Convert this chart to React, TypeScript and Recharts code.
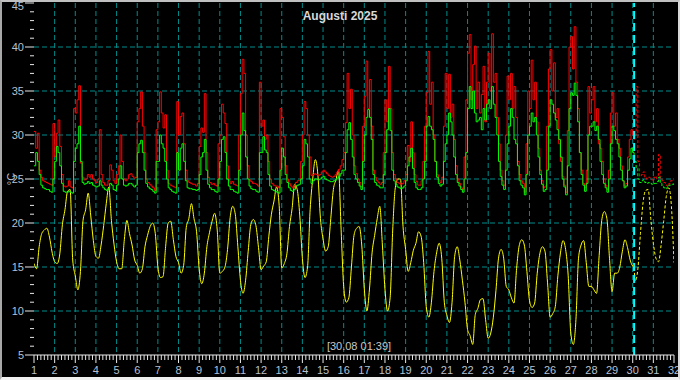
import React from "react";
import { LineChart, Line, XAxis, YAxis, CartesianGrid, ReferenceLine } from "recharts";

// two-hourly readings per day (00,02,...,22), 1-29 Aug
const RED = [
  [30.4, 28.5, 30.2, 26, 25.2, 24.8, 24.7, 24.6, 24.5, 24.4, 24.3, 31.3],
  [27.5, 30.2, 31.7, 28.7, 25.5, 24.2, 24.1, 24.2, 24.8, 24.1, 24.0, 33],
  [32.5, 34, 35.6, 26.8, 25.2, 24.9, 25, 25.5, 25.2, 25.5, 25, 24.8],
  [24.6, 25, 30.6, 25.5, 24.6, 24.3, 24.3, 24.8, 26.6, 26, 24.8, 24.5],
  [25.5, 26.5, 30, 27, 25, 24.8, 25, 25.5, 25.6, 25.3, 25.1, 25.2],
  [31.5, 33, 34.9, 31, 28, 25, 24.6, 24.4, 24.2, 24, 23.7, 30.6],
  [31.5, 34.9, 32.5, 30.8, 32.3, 26, 24.5, 24.3, 24.2, 24.1, 24.0, 33.8],
  [30, 32.1, 32.5, 29, 26, 24.8, 24.6, 24.5, 24.4, 24.4, 24.2, 24.5],
  [28.7, 30.8, 30.3, 34.7, 28, 25.2, 24.6, 24.4, 24.5, 24.3, 24.2, 29],
  [30, 33.5, 32.5, 31.3, 26.5, 24.8, 24.5, 24.7, 24.4, 24.3, 24.2, 30],
  [34.7, 38.6, 37, 30, 26.5, 24.9, 24.7, 24.5, 24.5, 24.4, 24.2, 36],
  [31, 31.7, 29.5, 30, 27, 25, 24.5, 24.3, 24.2, 24.2, 24.0, 33],
  [32, 29.8, 26.5, 25, 24.5, 24.2, 24.0, 24.3, 24.6, 24.8, 24.8, 27],
  [30, 33.8, 33, 30, 27.5, 25.4, 25.5, 25.6, 25.5, 25.4, 25.5, 25.8],
  [26, 25.8, 25.6, 25.4, 25.3, 25.2, 25.3, 25.5, 25.8, 26.1, 26.5, 27.2],
  [28, 31.4, 37, 33, 35.2, 30, 26.5, 25.6, 25, 24.6, 24.1, 31],
  [34.4, 38.4, 33, 36.3, 31, 26, 25.2, 24.8, 24.6, 24.4, 24.6, 28],
  [34, 31.5, 37.8, 33, 28, 25.5, 25, 24.6, 24.5, 24.4, 24.5, 24.8],
  [25.5, 28.8, 27, 31.5, 28, 25.5, 24.7, 24.3, 24.3, 24.8, 27, 31],
  [34.8, 39.5, 33.5, 36, 30, 27, 25.5, 24.9, 24.6, 25.2, 31, 37],
  [33, 36.9, 32, 33.5, 29.5, 26.5, 25, 24.5, 24.0, 23.8, 27.5, 34],
  [39.3, 41.4, 34, 38, 40.1, 33, 36, 32.5, 34.6, 37.8, 31.5, 36],
  [39.3, 35, 41.5, 36, 37, 32, 29, 26, 24.8, 24.3, 30, 36.7],
  [34, 37, 33, 35.5, 32, 27, 25.5, 24.8, 24.5, 23.5, 29, 35],
  [33, 38.5, 34, 36, 31.5, 28.5, 26, 24.8, 24, 24.2, 31, 37.5],
  [39.7, 35, 38.2, 32, 33, 29, 27, 25.3, 24.3, 23.5, 30.5, 40],
  [41.2, 37.5, 42.3, 36, 33, 28, 26, 24.5, 24, 26, 35.5, 32.5],
  [34, 35.5, 31.5, 33, 29, 28.5, 27, 25, 24.3, 23.8, 26, 32.5],
  [34.8, 31, 32.5, 29.5, 28.5, 26.5, 24.8, 24.2, 24.5, 27.5, 29.5, 30.6],
];

const GREEN = [
  [26.5, 28, 27, 25.5, 24.3, 24.0, 23.9, 23.8, 23.8, 23.6, 23.5, 25],
  [27, 28.7, 28, 26.5, 24.5, 23.6, 23.5, 23.5, 23.6, 23.5, 23.4, 27],
  [28.5, 29, 31, 27, 24.6, 24.4, 24.5, 24.7, 24.5, 24.6, 24.3, 24.2],
  [24.1, 24.2, 24.8, 24.3, 24, 23.8, 23.7, 23.9, 24.5, 24.3, 23.8, 23.7],
  [24.3, 25, 26.5, 25, 24.3, 24.2, 24.3, 24.5, 24.5, 24.3, 24.1, 24.3],
  [28, 29, 29.4, 28, 26, 24.5, 24.1, 23.9, 23.8, 23.6, 23.4, 27],
  [27, 30, 29, 28.5, 27, 25, 24, 23.8, 23.6, 23.5, 23.4, 28],
  [26, 28.5, 29, 27, 24.8, 24, 23.9, 23.9, 23.8, 23.8, 23.7, 23.8],
  [25.5, 27.5, 28, 29.5, 26, 24.4, 24, 23.8, 23.8, 23.6, 23.5, 25],
  [27, 29.5, 29.8, 28, 25, 24.2, 23.8, 23.8, 23.6, 23.5, 23.4, 26],
  [30, 32.5, 30.5, 27.5, 25, 24.2, 23.9, 23.8, 23.8, 23.6, 23.5, 28],
  [28, 29.8, 28.3, 28, 25.5, 24.2, 23.8, 23.7, 23.6, 23.5, 23.4, 26],
  [28.5, 27.5, 25.5, 24.6, 24, 23.7, 23.6, 23.8, 24.2, 24.3, 24.4, 25],
  [26.5, 29.5, 29, 27.5, 25, 24.5, 24.8, 25.0, 25.0, 24.9, 25.0, 25.2],
  [25.3, 25.0, 24.9, 24.8, 24.7, 24.7, 24.8, 24.9, 25.1, 25.3, 25.6, 26],
  [26, 28, 30.6, 31.4, 29.5, 27.5, 25.5, 25, 24.6, 24.2, 23.8, 27],
  [30, 32, 32.9, 32, 29.5, 25.5, 24.6, 24.3, 24.2, 24.0, 24.0, 25.5],
  [28, 30.6, 33, 30.5, 26, 24.8, 24.4, 24.1, 24.0, 23.9, 24.0, 24.2],
  [24.8, 26.5, 27.5, 28.5, 26.2, 24.6, 24.0, 23.8, 23.8, 24.0, 25.0, 27],
  [31, 32.1, 31, 30.6, 29.5, 27, 25.2, 24.5, 24.2, 24.4, 27, 29],
  [30, 32.5, 31.5, 30, 27.5, 25.5, 24.6, 24.2, 23.8, 23.5, 25, 28],
  [33, 35.5, 33, 35, 32.5, 31.5, 31.7, 32, 30.6, 33, 31.7, 33.5],
  [34, 33, 35.5, 33.5, 32, 30, 27, 25.3, 24.3, 23.8, 26, 29],
  [31, 33, 32, 29.5, 29, 26.5, 24.8, 24.3, 24.0, 23.2, 25.5, 30],
  [31, 32.5, 31.5, 32, 30, 27.5, 25.5, 24.4, 23.6, 23.8, 26, 31],
  [34, 33.5, 32.5, 31.7, 30.6, 29.5, 27.5, 25, 24.1, 23.2, 26.5, 33],
  [34.8, 34.5, 35.9, 34.5, 31.5, 28, 25.5, 24.3, 23.6, 24.5, 30, 31],
  [31, 31.5, 30.5, 31, 29.5, 27, 25.5, 24.5, 24, 23.5, 25, 29],
  [31, 30.5, 29.5, 29, 27.5, 26, 24.8, 24.0, 24.2, 26, 27.3, 28.5],
];

// three-hourly readings per day (00,03,...,21)
const YELLOW = [
  [15.4, 14.8, 17.3, 18.8, 19.2, 19.4, 18.4, 16.7],
  [15.6, 15.4, 16.5, 19.8, 21.5, 23.6, 23.8, 15.8],
  [14, 12.4, 14.5, 20.3, 21.5, 23.4, 20.8, 18],
  [16.2, 16.0, 17.5, 19.7, 22.2, 24.1, 20.3, 17.6],
  [15.6, 14.8, 14.8, 18.1, 20.3, 18.8, 17.5, 15.8],
  [15.2, 14.3, 14.8, 17.3, 18.6, 19.6, 20, 18.8],
  [15, 13.8, 13.9, 17.3, 20, 20.2, 18.1, 16.2],
  [15.5, 14.3, 15.2, 19.5, 20.5, 22.2, 20.5, 19],
  [14.8, 13.1, 14.3, 17.3, 18.9, 20.2, 21.1, 19.2],
  [14.3, 14.5, 15, 17, 20.6, 21.9, 21, 17.3],
  [13.5, 12, 13.5, 16.8, 19.8, 20.4, 19.7, 17.2],
  [14.7, 15.1, 15.6, 18.5, 21, 22.5, 24.1, 22],
  [14.9, 15.4, 16.5, 19.6, 21.6, 24.4, 23.8, 20.8],
  [16, 13.8, 15, 21.5, 25, 27.2, 25.5, 20.5],
  [18.2, 16.8, 17.3, 20.5, 23.8, 24.9, 26, 19.3],
  [12.8, 11, 11.5, 15, 18.6, 19.4, 19.6, 17.5],
  [12.5, 10, 12.5, 16.6, 18.6, 20.5, 21.9, 17.5],
  [12.5, 10, 11.5, 19.2, 24, 25, 25, 19.6],
  [17, 14.5, 15.5, 16.9, 17.7, 19, 18.5, 15.5],
  [10.5, 9.3, 11, 14.5, 16.6, 17.7, 16, 11],
  [9.5, 8.7, 11, 16.2, 17.3, 15.8, 13.5, 11],
  [7.9, 7.2, 6.2, 9.6, 10.3, 11.3, 11.4, 9],
  [6.9, 7.5, 9.3, 12.3, 16, 17, 16, 12.8],
  [12.4, 11.5, 10.9, 14.8, 17.4, 18.1, 17.5, 14.5],
  [11.2, 10.4, 10.9, 14.3, 16.5, 17.3, 16.8, 13.2],
  [9.3, 9.7, 10.5, 14, 16.6, 18, 17, 14],
  [7.5, 6.2, 9, 16, 17.5, 18, 15.5, 12.8],
  [12.8, 12.4, 12, 16.3, 20.3, 21.3, 20.5, 16],
  [12.2, 14.3, 14.3, 15, 16.8, 18.1, 17.2, 15.8],
];

// 30 Aug 00:00 and the moment of the reading (30.08 01:39)
const NOW = 30 + (1 + 39 / 60) / 24;
const RED_TAIL = [30, 29.5];
const GREEN_TAIL = [28, 27.5];
const YELLOW_TAIL = [15.1, 14.9];

// forecast: value at NOW, then every 2h (red/green) or 3h (yellow) up to 32
const RED_FC = [29.5, 30, 35.5, 27, 25.3, 25.5, 25.8, 25.2, 25, 25.2, 25.1, 24.9,
  25.2, 25.0, 25.4, 27.8, 25, 24.8, 24.6, 24.3, 24.2, 24.5, 24.8, 25, 25];
const GREEN_FC = [27.5, 27, 26.3, 25, 24.6, 24.8, 24.9, 24.6, 24.5, 24.6, 24.5, 24.4,
  24.5, 24.5, 24.7, 25.2, 24.5, 24.2, 24.0, 23.9, 24.1, 24.3, 24.4, 24.4, 24.5];
const YELLOW_FC = [14.9, 13.4, 14.8, 18.8, 22.3, 23.7, 23.8, 20.5, 17.7, 16, 15.6, 17.5,
  20.2, 23, 24, 21.9, 15.5];

const Y_TICKS = Array.from({ length: 41 }, (_, i) => 5 + i);
const X_TICKS = Array.from({ length: 187 }, (_, i) => 1 + i / 6);
const GRID_Y = [10, 15, 20, 25, 30, 35, 40];
const GRID_X = Array.from({ length: 30 }, (_, i) => 2 + i);

const TEXT = "#b8c0d0";

function history(rows: number[][], perDay: number, tail: number[]) {
  const pts = rows.flatMap((row, d) => row.map((v, i) => ({ t: 1 + d + i / perDay, v })));
  pts.push({ t: 30, v: tail[0] }, { t: NOW, v: tail[1] });
  return pts;
}

function forecast(vals: number[], perDay: number) {
  return vals.map((v, i) => ({ t: i === 0 ? NOW : 30 + i / perDay, v }));
}

const redHist = history(RED, 12, RED_TAIL);
const greenHist = history(GREEN, 12, GREEN_TAIL);
const yellowHist = history(YELLOW, 8, YELLOW_TAIL);
const redFc = forecast(RED_FC, 12);
const greenFc = forecast(GREEN_FC, 12);
const yellowFc = forecast(YELLOW_FC, 8);

const XTick = (props: any) => {
  const { x, y, payload } = props;
  const v = payload.value;
  const major = Math.abs(v - Math.round(v)) < 1e-6;
  return (
    <g>
      <line x1={x} x2={x} y1={y} y2={y + (major ? 8 : 5)} stroke="#e8e8e8" />
      {major && (
        <text x={x} y={y + 19} textAnchor="middle" fill={TEXT} fontSize={11}>
          {Math.round(v)}
        </text>
      )}
    </g>
  );
};

const YTick = (props: any) => {
  const { x, y, payload } = props;
  const v = payload.value;
  const major = v % 5 === 0;
  // the top label sits on the frame edge; nudge it just inside
  const dy = v === 45 ? 7 : 4;
  return (
    <g>
      <line x1={x - (major ? 9 : 4)} x2={x} y1={y} y2={y} stroke="#e8e8e8" />
      {major && (
        <text x={x - 10} y={y + dy} textAnchor="end" fill={TEXT} fontSize={11}>
          {v}
        </text>
      )}
    </g>
  );
};

export default function App() {
  return (
    <div style={{ position: "relative", width: 680, height: 380, background: "#000", fontFamily: "'Liberation Sans', Arial, sans-serif" }}>
      <style>{`body{margin:0;background:#000}`}</style>
      <LineChart width={680} height={380} margin={{ top: 3, right: 6, bottom: 0, left: 0 }}>
        <CartesianGrid
          horizontalValues={GRID_Y}
          verticalValues={GRID_X}
          stroke="#008c8c"
          strokeDasharray="5 3"
        />
        <XAxis
          dataKey="t"
          type="number"
          domain={[1, 32]}
          ticks={X_TICKS}
          interval={0}
          allowDataOverflow
          height={25}
          tickLine={false}
          tickSize={0}
          tickMargin={0}
          tick={<XTick />}
          axisLine={{ stroke: "#e8e8e8" }}
        />
        <YAxis
          type="number"
          domain={[5, 45]}
          ticks={Y_TICKS}
          interval={0}
          allowDataOverflow
          width={34}
          tickLine={false}
          tickSize={0}
          tickMargin={0}
          tick={<YTick />}
          axisLine={false}
        />
        <Line data={yellowHist} dataKey="v" type="monotone" stroke="#ffff00" strokeWidth={1} dot={false} activeDot={false} isAnimationActive={false} />
        <Line data={yellowFc} dataKey="v" type="monotone" stroke="#ffff00" strokeWidth={1} strokeDasharray="3 2" dot={false} activeDot={false} isAnimationActive={false} />
        <Line data={redHist} dataKey="v" type="stepAfter" stroke="#ff0000" strokeWidth={1} dot={false} activeDot={false} isAnimationActive={false} />
        <Line data={redFc} dataKey="v" type="stepAfter" stroke="#ff0000" strokeWidth={1} strokeDasharray="3 2" dot={false} activeDot={false} isAnimationActive={false} />
        <Line data={greenHist} dataKey="v" type="stepAfter" stroke="#00ff00" strokeWidth={1} dot={false} activeDot={false} isAnimationActive={false} />
        <Line data={greenFc} dataKey="v" type="stepAfter" stroke="#00ff00" strokeWidth={1} strokeDasharray="3 2" dot={false} activeDot={false} isAnimationActive={false} />
        <ReferenceLine x={NOW} stroke="#00ffff" strokeWidth={2} strokeDasharray="8 4" />
      </LineChart>
      <div style={{ position: "absolute", left: 0, top: 9, width: 680, textAlign: "center", color: "#d8d8d8", fontSize: 12, fontWeight: "bold" }}>
        Augusti 2025
      </div>
      <div style={{ position: "absolute", left: 300, top: 340, width: 118, textAlign: "center", color: "#c8c8c8", fontSize: 11 }}>
        [30.08 01:39]
      </div>
      <div style={{ position: "absolute", left: 1, top: 173, width: 20, textAlign: "center", color: TEXT, fontSize: 11, transform: "rotate(-90deg)" }}>
        °C
      </div>
      <div style={{ position: "absolute", inset: 0, boxSizing: "border-box", borderTop: "2px solid #c0c0c0", borderLeft: "2px solid #a8a8a8", borderRight: "2px solid #d8d8d8", borderBottom: "3px solid #f0f0f0", pointerEvents: "none" }} />
    </div>
  );
}
